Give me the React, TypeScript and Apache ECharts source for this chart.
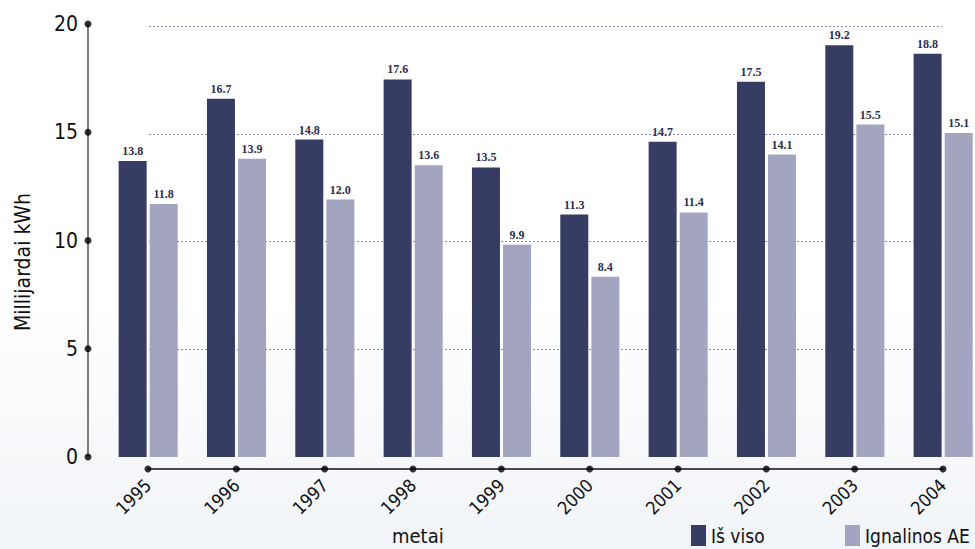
import React, { useEffect, useRef } from "react";
import * as echarts from "echarts";

const years = ["1995", "1996", "1997", "1998", "1999", "2000", "2001", "2002", "2003", "2004"];
const totalValues = [13.8, 16.7, 14.8, 17.6, 13.5, 11.3, 14.7, 17.5, 19.2, 18.8];
const ignalinaValues = [11.8, 13.9, 12.0, 13.6, 9.9, 8.4, 11.4, 14.1, 15.5, 15.1];
const yTicks = [0, 5, 10, 15, 20];
const seriesNames = ["Iš viso", "Ignalinos AE"];
const yTitle = "Millijardai kWh";
const xTitle = "metai";

const FONT = "'DejaVu Sans Condensed', 'Liberation Sans Narrow', 'Liberation Sans', sans-serif";
const DARK = "#363c62";
const LIGHT = "#a3a4bf";

export default function App() {
  const ref = useRef<HTMLDivElement>(null);
  useEffect(() => {
    document.body.style.margin = "0";
    document.body.style.overflow = "hidden";
    if (!ref.current) return;
    const chart = echarts.init(ref.current, undefined, { renderer: "svg" });
    const labelStyle = {
      show: true,
      position: "top",
      distance: 4,
      fontFamily: "'Liberation Serif', 'DejaVu Serif', serif",
      fontWeight: "bold",
      fontSize: 12,
      color: "#2b2f50",
      formatter: (p: any) => Number(p.value).toFixed(1),
    };
    const legendText = { fontSize: 19, color: "#111", fontFamily: FONT };
    chart.setOption({
      animation: false,
      backgroundColor: {
        type: "linear",
        x: 0, y: 0, x2: 0, y2: 1,
        colorStops: [
          { offset: 0, color: "#ffffff" },
          { offset: 0.55, color: "#ffffff" },
          { offset: 1, color: "#f1f4f8" },
        ],
      },
      textStyle: { fontFamily: FONT },
      grid: [
        { left: 104, width: 883.33, top: 28, height: 429, outerBoundsMode: "none" },
        { left: 148, width: 795, top: 464, height: 10, outerBoundsMode: "none" },
        { left: 87, width: 2, top: 24, height: 433, outerBoundsMode: "none" },
        { left: 149, width: 793, top: 26, height: 431, outerBoundsMode: "none" },
      ],
      xAxis: [
        { gridIndex: 0, type: "category", data: years, show: false },
        {
          gridIndex: 1,
          type: "category",
          data: years,
          boundaryGap: false,
          axisLine: { show: true, onZero: true, lineStyle: { color: "#111", width: 1.5 } },
          axisTick: { show: false },
          axisLabel: { rotate: 45, fontSize: 18, margin: 8, color: "#111", fontFamily: FONT },
        },
        { gridIndex: 2, type: "value", min: -1, max: 1, show: false },
        { gridIndex: 3, type: "value", min: 0, max: 1, show: false },
      ],
      yAxis: [
        { gridIndex: 0, type: "value", min: 0, max: 20, show: false },
        { gridIndex: 1, type: "value", min: -1, max: 1, show: false },
        {
          gridIndex: 2,
          type: "value",
          min: 0,
          max: 20,
          interval: 5,
          axisLine: { show: true, lineStyle: { color: "#555", width: 1.5 } },
          axisTick: { show: false },
          splitLine: { show: false },
          axisLabel: { fontSize: 21, margin: 9, color: "#111", fontFamily: FONT },
        },
        {
          gridIndex: 3,
          type: "value",
          min: 0,
          max: 20,
          interval: 5,
          axisLine: { show: false },
          axisTick: { show: false },
          axisLabel: { show: false },
          splitLine: {
            show: true,
            showMinLine: false,
            lineStyle: { color: "#8a8ab0", type: [2, 2], width: 1 },
          },
        },
      ],
      legend: [
        {
          data: [seriesNames[0]],
          left: 691,
          top: 525,
          padding: 0,
          itemWidth: 15,
          itemHeight: 21,
          icon: "rect",
          textStyle: legendText,
        },
        {
          data: [seriesNames[1]],
          left: 845,
          top: 525,
          padding: 0,
          itemWidth: 15,
          itemHeight: 21,
          icon: "rect",
          textStyle: legendText,
        },
      ],
      graphic: [
        {
          type: "text",
          left: 392,
          top: 526,
          style: { text: xTitle, fontSize: 20, fill: "#111", fontFamily: FONT },
        },
        {
          type: "text",
          x: 23,
          y: 262,
          rotation: Math.PI / 2,
          style: {
            text: yTitle,
            fontSize: 21,
            fill: "#111",
            fontFamily: FONT,
            align: "center",
            verticalAlign: "middle",
          },
        },
      ],
      series: [
        {
          name: seriesNames[0],
          type: "bar",
          data: totalValues,
          xAxisIndex: 0,
          yAxisIndex: 0,
          barWidth: 28,
          barGap: "11%",
          itemStyle: { color: DARK },
          label: labelStyle,
          z: 3,
        },
        {
          name: seriesNames[1],
          type: "bar",
          data: ignalinaValues,
          xAxisIndex: 0,
          yAxisIndex: 0,
          barWidth: 28,
          barGap: "11%",
          itemStyle: { color: LIGHT },
          label: labelStyle,
          z: 3,
        },
        {
          name: "xdots",
          type: "scatter",
          xAxisIndex: 1,
          yAxisIndex: 1,
          data: years.map((y) => [y, 0]),
          symbolSize: 7,
          itemStyle: { color: "#000" },
          silent: true,
          z: 5,
        },
        {
          name: "ydots",
          type: "scatter",
          xAxisIndex: 2,
          yAxisIndex: 2,
          data: yTicks.map((v) => [0, v]),
          symbolSize: 7,
          itemStyle: { color: "#000" },
          silent: true,
          z: 5,
        },
      ],
    });
    return () => chart.dispose();
  }, []);
  return <div ref={ref} style={{ width: 975, height: 549 }} />;
}
